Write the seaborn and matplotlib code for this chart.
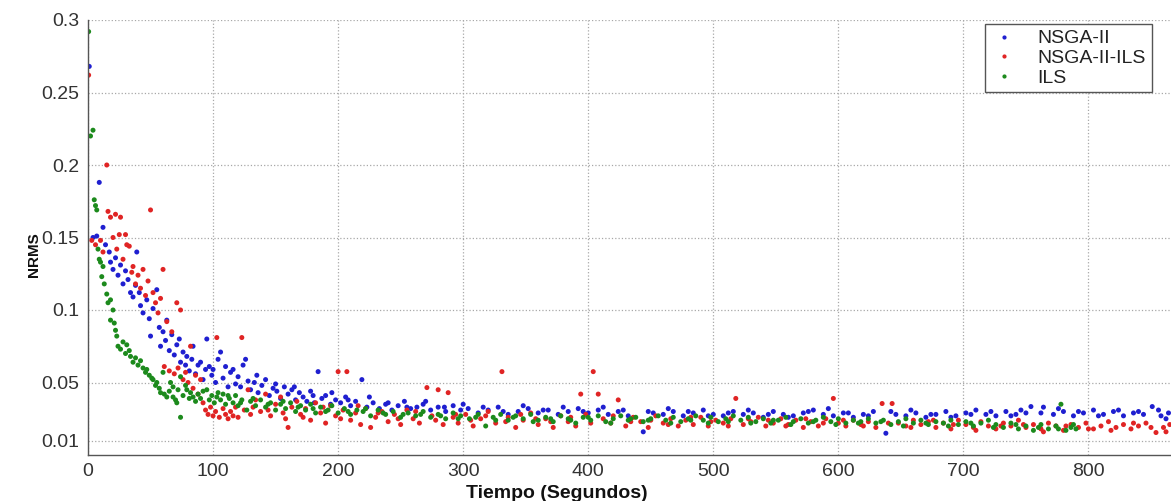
import pandas as pd
import matplotlib
matplotlib.use('Agg')
import matplotlib.pyplot as plt
import seaborn as sns

# ── Data ((tiempo, nrms) pairs) ─────────────────────────────────────
nsga2 = [
    (1, .268), (4, .150), (7, .151), (9, .188), (12, .157), (14, .145), (17, .140), (18, .133),
    (20, .128), (22, .136), (24, .124), (26, .131), (28, .118), (30, .127), (32, .121), (34, .112),
    (36, .109), (38, .117), (39, .140), (41, .112), (42, .103), (44, .098), (47, .107), (49, .094),
    (50, .082), (52, .101), (55, .114), (57, .088), (58, .075), (60, .085), (62, .079), (63, .093),
    (65, .072), (67, .083), (69, .069), (71, .076), (73, .080), (74, .064), (76, .071), (78, .062),
    (79, .068), (81, .058), (83, .066), (84, .075), (86, .056), (88, .062), (90, .064), (92, .052),
    (94, .059), (95, .080), (97, .061), (99, .055), (100, .059), (102, .050), (104, .066), (106, .071),
    (108, .053), (110, .061), (112, .047), (114, .057), (116, .059), (118, .049), (120, .054), (122, .047),
    (124, .062), (126, .066), (128, .051), (130, .045), (133, .050), (136, .043), (139, .048), (142, .052),
    (145, .041), (148, .046), (151, .044), (154, .039), (157, .047), (160, .042), (163, .045), (166, .038),
    (169, .043), (172, .040), (175, .037), (178, .044), (181, .036), (184, .0575), (187, .039), (190, .041),
    (194, .035), (198, .038), (202, .036), (206, .040), (210, .034), (214, .037), (219, .052), (223, .033),
    (228, .036), (233, .032), (238, .035), (243, .031), (248, .034), (253, .037), (258, .032), (263, .033),
    (268, .035), (274, .031), (280, .033), (286, .030), (292, .034), (298, .031), (304, .032), (312, .029),
    (320, .031), (328, .033), (336, .028), (344, .030), (352, .032), (360, .029), (368, .031), (376, .028),
    (384, .030), (392, .032), (400, .029), (408, .031), (416, .028), (424, .030), (432, .027), (444, .016),
    (452, .029), (460, .028), (468, .030), (476, .027), (484, .029), (492, .031), (500, .028), (508, .027),
    (516, .030), (524, .028), (532, .029), (540, .026), (548, .030), (556, .028), (564, .027), (572, .029),
    (580, .031), (588, .028), (596, .027), (604, .029), (612, .026), (620, .028), (628, .030), (638, .015),
    (646, .028), (654, .027), (662, .029), (670, .026), (678, .028), (686, .030), (694, .027), (702, .029),
    (710, .031), (718, .028), (726, .027), (734, .030), (742, .028), (750, .029), (754, .0334), (764, .033),
    (772, .028), (780, .030), (788, .027), (796, .029), (804, .031), (812, .028), (820, .030), (828, .027),
    (836, .029), (844, .028), (851, .0334), (858, .027), (864, .029),
    (135, .055), (150, .049), (165, .047), (180, .041), (195, .043), (208, .038), (225, .040), (240, .036),
    (255, .033), (270, .037), (285, .033), (300, .035), (316, .033), (332, .030), (348, .034), (364, .031),
    (380, .033), (396, .030), (412, .033), (428, .031), (448, .030), (464, .032), (480, .030), (496, .027),
    (512, .029), (528, .031), (544, .028), (560, .026), (576, .030), (592, .032), (608, .029), (624, .027),
    (642, .030), (658, .031), (674, .028), (690, .026), (706, .028), (722, .030), (738, .027), (746, .031),
    (762, .029), (776, .032), (792, .030), (808, .027), (824, .031), (840, .030), (856, .031), (862, .025),
]

nsga2_ils = [
    (0.5, .262), (3, .148), (6, .145), (10, .148), (12, .140), (15, .200), (16, .168), (18, .164),
    (20, .150), (22, .166), (23, .142), (25, .152), (26, .164), (28, .135), (30, .152), (31, .145),
    (33, .144), (35, .126), (36, .130), (38, .118), (40, .124), (42, .115), (44, .128), (46, .110),
    (48, .120), (50, .169), (52, .112), (54, .105), (56, .098), (58, .108), (60, .128), (61, .061),
    (63, .092), (65, .058), (67, .085), (69, .056), (71, .105), (72, .060), (74, .100), (76, .052),
    (78, .057), (80, .050), (82, .075), (84, .046), (86, .055), (88, .042), (90, .052), (92, .036),
    (94, .031), (96, .028), (98, .033), (100, .027), (102, .030), (103, .081), (105, .026), (108, .032),
    (110, .028), (112, .025), (114, .030), (116, .027), (118, .033), (120, .026), (123, .081), (125, .031),
    (128, .045), (130, .028), (134, .038), (138, .030), (142, .042), (146, .027), (150, .035), (154, .040),
    (158, .025), (160, .019), (163, .033), (167, .037), (170, .028), (174, .032), (178, .024), (182, .036),
    (186, .029), (190, .022), (194, .034), (198, .027), (200, .0575), (204, .031), (207, .0575), (210, .024),
    (214, .029), (218, .021), (222, .032), (226, .019), (230, .026), (235, .030), (240, .023), (245, .028),
    (250, .021), (255, .031), (260, .025), (265, .022), (271, .0465), (275, .027), (280, .045), (284, .021),
    (288, .043), (292, .026), (296, .022), (302, .028), (308, .020), (314, .025), (320, .030), (326, .022),
    (331, .0575), (336, .026), (342, .019), (348, .024), (354, .029), (360, .021), (366, .025), (372, .019),
    (378, .027), (384, .023), (390, .020), (394, .042), (398, .028), (404, .0575), (408, .042), (412, .025),
    (418, .022), (424, .038), (430, .020), (436, .026), (442, .023), (448, .019), (454, .027), (460, .022),
    (466, .025), (472, .020), (478, .024), (484, .021), (490, .026), (496, .020), (502, .024), (508, .022),
    (514, .025), (518, .039), (524, .021), (530, .023), (536, .026), (542, .020), (548, .022), (554, .025),
    (560, .021), (566, .024), (572, .019), (578, .023), (584, .020), (590, .025), (596, .039), (600, .022),
    (606, .020), (612, .024), (618, .021), (624, .023), (630, .019), (635, .0355), (643, .0355), (648, .022),
    (654, .020), (660, .024), (666, .021), (672, .023), (678, .019), (684, .022), (690, .018), (696, .024),
    (702, .021), (708, .019), (714, .023), (720, .020), (726, .018), (732, .022), (738, .020), (744, .024),
    (750, .019), (756, .021), (762, .018), (768, .022), (774, .020), (780, .017), (786, .021), (792, .019),
    (798, .022), (804, .018), (810, .020), (816, .023), (822, .019), (828, .021), (834, .018), (840, .020),
    (846, .022), (854, .0155), (860, .019), (865, .021),
    (132, .033), (144, .031), (156, .029), (172, .026), (188, .033), (202, .025), (216, .034), (232, .029),
    (248, .025), (262, .030), (278, .024), (294, .028), (306, .024), (318, .027), (334, .023), (346, .028),
    (358, .025), (370, .023), (386, .026), (402, .022), (420, .027), (434, .023), (450, .024), (464, .021),
    (482, .026), (498, .023), (512, .020), (528, .025), (544, .024), (558, .020), (574, .025), (588, .022),
    (604, .024), (620, .020), (640, .022), (658, .019), (676, .024), (692, .021), (710, .017), (730, .020),
    (748, .021), (764, .016), (782, .020), (800, .018), (818, .017), (836, .022), (850, .019), (862, .016),
]

ils = [
    (0.5, .292), (2, .220), (4, .224), (5, .176), (6, .172), (7, .169), (8, .142), (9, .135),
    (10, .133), (11, .123), (12, .130), (13, .118), (15, .111), (16, .105), (18, .107), (18, .093),
    (20, .100), (21, .091), (22, .086), (23, .082), (24, .075), (26, .073), (28, .078), (30, .070),
    (31, .076), (33, .072), (34, .068), (36, .064), (38, .067), (40, .062), (42, .065), (44, .060),
    (46, .057), (47, .059), (49, .055), (51, .053), (52, .052), (54, .048), (55, .050), (57, .046),
    (58, .043), (60, .057), (61, .042), (63, .040), (65, .044), (66, .050), (68, .047), (68, .040),
    (70, .038), (71, .036), (72, .045), (74, .054), (74, .026), (76, .041), (78, .048), (79, .045),
    (81, .039), (82, .043), (84, .040), (86, .037), (88, .042), (90, .039), (92, .044), (95, .045),
    (97, .038), (99, .041), (101, .036), (103, .040), (106, .038), (108, .042), (110, .035), (113, .039),
    (116, .036), (118, .041), (120, .034), (123, .038), (127, .031), (130, .037), (134, .034), (138, .038),
    (142, .033), (146, .036), (150, .031), (154, .035), (158, .032), (162, .036), (166, .030), (170, .034),
    (174, .031), (178, .035), (182, .029), (186, .033), (190, .030), (195, .034), (200, .029), (205, .032),
    (210, .028), (215, .031), (220, .030), (226, .027), (232, .031), (238, .028), (244, .030), (250, .026),
    (256, .029), (262, .027), (268, .030), (274, .026), (280, .028), (286, .025), (292, .029), (298, .027),
    (305, .025), (312, .028), (318, .020), (324, .026), (330, .028), (336, .024), (342, .027), (348, .025),
    (354, .028), (360, .024), (366, .026), (372, .023), (378, .027), (384, .025), (390, .022), (396, .026),
    (402, .024), (408, .027), (414, .023), (420, .025), (426, .027), (432, .024), (438, .026), (444, .023),
    (450, .025), (456, .027), (462, .024), (468, .026), (474, .023), (480, .025), (486, .027), (492, .024),
    (498, .026), (504, .023), (510, .025), (516, .027), (522, .024), (528, .026), (534, .023), (540, .025),
    (546, .022), (552, .024), (558, .026), (564, .023), (570, .025), (576, .022), (582, .024), (588, .026),
    (594, .023), (600, .025), (606, .022), (612, .024), (618, .023), (624, .025), (630, .022), (636, .024),
    (642, .021), (648, .023), (654, .025), (660, .022), (666, .024), (672, .021), (678, .023), (684, .022),
    (690, .024), (696, .021), (702, .023), (708, .020), (714, .022), (720, .024), (726, .021), (732, .019),
    (738, .022), (744, .018), (750, .020), (756, .017), (762, .021), (768, .018), (774, .020), (778, .035),
    (782, .017), (786, .019), (790, .018),
    (104, .043), (112, .041), (122, .036), (132, .039), (144, .035), (156, .037), (168, .033), (180, .032),
    (192, .031), (208, .030), (222, .032), (236, .029), (252, .028), (266, .028), (282, .027), (296, .025),
    (310, .026), (326, .024), (340, .026), (356, .023), (370, .025), (386, .024), (400, .026), (418, .022),
    (434, .025), (448, .024), (466, .022), (482, .024), (496, .022), (512, .023), (530, .022), (548, .024),
    (562, .021), (580, .023), (598, .021), (616, .022), (634, .023), (652, .020), (670, .022), (688, .020),
    (706, .022), (724, .019), (742, .021), (760, .019), (776, .018), (788, .021),
]

series_names = ['NSGA-II', 'NSGA-II-ILS', 'ILS']
series_colors = ['#1f1fd0', '#e02424', '#1c8a1c']
x_ticks = [0, 100, 200, 300, 400, 500, 600, 700, 800]
y_ticks = [0.01, 0.05, 0.1, 0.15, 0.2, 0.25, 0.3]
y_ticklabels = ['0.01', '0.05', '0.1', '0.15', '0.2', '0.25', '0.3']

# ── Long table (blue drawn first, green on top) ─────────────────────
frames = []
for name, pts in zip(series_names, [nsga2, nsga2_ils, ils]):
    d = pd.DataFrame(pts, columns=['tiempo', 'nrms'])
    d['serie'] = name
    frames.append(d)
df = pd.concat(frames, ignore_index=True)

sns.set_theme(style='white')
plt.rcParams['font.family'] = ['Liberation Sans', 'DejaVu Sans']

fig = plt.figure(figsize=(11.71, 5.01), dpi=100)
ax = fig.add_axes([88 / 1171, 1 - 455 / 501, 1 - 88 / 1171, 435 / 501])

sns.scatterplot(data=df, x='tiempo', y='nrms', hue='serie', hue_order=series_names,
                palette=dict(zip(series_names, series_colors)), s=13, linewidth=0,
                ax=ax, legend=False)

ax.set_xlim(0, 866)
ax.set_ylim(0, 0.3)
ax.set_xticks(x_ticks)
ax.set_yticks(y_ticks)
ax.set_yticklabels(y_ticklabels)
ax.grid(True, linestyle=':', linewidth=0.9, color='#a8a8a8')
ax.tick_params(direction='in', length=5, width=0.8, colors='#444444',
               labelsize=14, labelcolor='#333333', pad=6)

for side in ['top', 'right']:
    ax.spines[side].set_visible(False)
for side in ['left', 'bottom']:
    ax.spines[side].set_color('#555555')
    ax.spines[side].set_linewidth(1.0)

ax.set_xlabel('Tiempo (Segundos)', fontsize=14, fontweight='bold', color='#111111')
ax.set_ylabel('NRMS', fontsize=11, fontweight='bold', color='#111111')
ax.xaxis.set_label_coords(0.433, -0.068)
ax.yaxis.set_label_coords(-0.043, 0.46)

# legend with small dot markers
handles = [plt.Line2D([], [], linestyle='', marker='.', markersize=4, color=c)
           for c in series_colors]
leg = ax.legend(handles, series_names, loc='upper left',
                bbox_to_anchor=(985 / 1171, 1 - 24 / 501), bbox_transform=fig.transFigure,
                borderaxespad=0, fontsize=14, frameon=True, fancybox=False, framealpha=1,
                edgecolor='#555555', handlelength=1.4, handletextpad=1.0,
                labelspacing=0.1, borderpad=0.3)
leg.get_frame().set_linewidth(1.0)
for t in leg.get_texts():
    t.set_color('#222222')

plt.savefig('out.png', dpi=100)
print("saved out.png")
